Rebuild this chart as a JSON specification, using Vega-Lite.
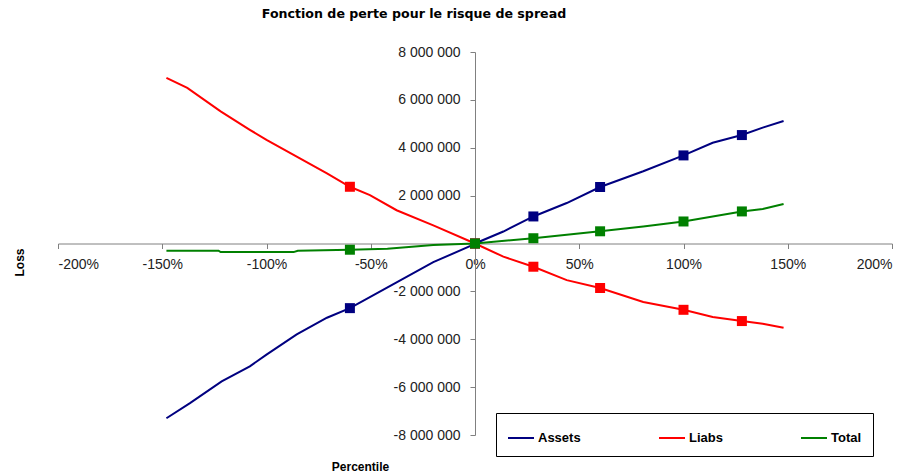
{
  "$schema": "https://vega.github.io/schema/vega-lite/v6.json",
  "width": 834,
  "height": 383,
  "autosize": {"type": "none"},
  "padding": {"left": 58, "top": 52, "right": 21, "bottom": 41},
  "background": "white",
  "title": {
    "text": "Fonction de perte pour le risque de spread",
    "font": "DejaVu Sans",
    "fontSize": 12.6,
    "fontWeight": "bold",
    "color": "black",
    "anchor": "middle",
    "dx": -61,
    "baseline": "alphabetic",
    "offset": 14
  },
  "config": {
    "view": {"stroke": null},
    "locale": {
      "number": {"decimal": ",", "thousands": " ", "grouping": [3], "currency": ["", " €"], "minus": "-", "percent": "%"}
    },
    "axis": {
      "grid": false,
      "domainColor": "#808080",
      "tickColor": "#808080",
      "tickSize": 5,
      "labelFont": "Liberation Sans",
      "labelFontSize": 14,
      "labelColor": "#222",
      "titleFont": "Liberation Sans",
      "titleFontSize": 12,
      "titleFontWeight": "bold",
      "titleColor": "black"
    }
  },
  "datasets": {
    "curve": [
      {"series": "Assets", "pct": -1.48, "loss": -7300000},
      {"series": "Assets", "pct": -1.367, "loss": -6670000},
      {"series": "Assets", "pct": -1.215, "loss": -5760000},
      {"series": "Assets", "pct": -1.08, "loss": -5130000},
      {"series": "Assets", "pct": -1.0, "loss": -4640000},
      {"series": "Assets", "pct": -0.855, "loss": -3800000},
      {"series": "Assets", "pct": -0.71, "loss": -3100000},
      {"series": "Assets", "pct": -0.6, "loss": -2700000},
      {"series": "Assets", "pct": -0.376, "loss": -1620000},
      {"series": "Assets", "pct": -0.2, "loss": -780000},
      {"series": "Assets", "pct": -0.016, "loss": -80000},
      {"series": "Assets", "pct": 0.0, "loss": 0},
      {"series": "Assets", "pct": 0.136, "loss": 500000},
      {"series": "Assets", "pct": 0.28, "loss": 1130000},
      {"series": "Assets", "pct": 0.44, "loss": 1690000},
      {"series": "Assets", "pct": 0.6, "loss": 2360000},
      {"series": "Assets", "pct": 0.807, "loss": 3020000},
      {"series": "Assets", "pct": 1.0, "loss": 3680000},
      {"series": "Assets", "pct": 1.14, "loss": 4210000},
      {"series": "Assets", "pct": 1.28, "loss": 4530000},
      {"series": "Assets", "pct": 1.38, "loss": 4840000},
      {"series": "Assets", "pct": 1.48, "loss": 5120000},
      {"series": "Liabs", "pct": -1.48, "loss": 6920000},
      {"series": "Liabs", "pct": -1.38, "loss": 6500000},
      {"series": "Liabs", "pct": -1.22, "loss": 5520000},
      {"series": "Liabs", "pct": -1.08, "loss": 4750000},
      {"series": "Liabs", "pct": -1.0, "loss": 4330000},
      {"series": "Liabs", "pct": -0.855, "loss": 3630000},
      {"series": "Liabs", "pct": -0.71, "loss": 2930000},
      {"series": "Liabs", "pct": -0.6, "loss": 2370000},
      {"series": "Liabs", "pct": -0.504, "loss": 2020000},
      {"series": "Liabs", "pct": -0.376, "loss": 1390000},
      {"series": "Liabs", "pct": -0.2, "loss": 760000},
      {"series": "Liabs", "pct": 0.0, "loss": 0},
      {"series": "Liabs", "pct": 0.136, "loss": -550000},
      {"series": "Liabs", "pct": 0.28, "loss": -970000},
      {"series": "Liabs", "pct": 0.44, "loss": -1530000},
      {"series": "Liabs", "pct": 0.6, "loss": -1860000},
      {"series": "Liabs", "pct": 0.807, "loss": -2440000},
      {"series": "Liabs", "pct": 1.0, "loss": -2770000},
      {"series": "Liabs", "pct": 1.14, "loss": -3070000},
      {"series": "Liabs", "pct": 1.28, "loss": -3240000},
      {"series": "Liabs", "pct": 1.38, "loss": -3350000},
      {"series": "Liabs", "pct": 1.48, "loss": -3520000},
      {"series": "Total", "pct": -1.48, "loss": -300000},
      {"series": "Total", "pct": -1.23, "loss": -300000},
      {"series": "Total", "pct": -1.22, "loss": -360000},
      {"series": "Total", "pct": -0.87, "loss": -360000},
      {"series": "Total", "pct": -0.85, "loss": -300000},
      {"series": "Total", "pct": -0.6, "loss": -260000},
      {"series": "Total", "pct": -0.42, "loss": -220000},
      {"series": "Total", "pct": -0.2, "loss": -60000},
      {"series": "Total", "pct": 0.0, "loss": 0},
      {"series": "Total", "pct": 0.28, "loss": 220000},
      {"series": "Total", "pct": 0.6, "loss": 510000},
      {"series": "Total", "pct": 0.807, "loss": 710000},
      {"series": "Total", "pct": 1.0, "loss": 920000},
      {"series": "Total", "pct": 1.28, "loss": 1340000},
      {"series": "Total", "pct": 1.38, "loss": 1440000},
      {"series": "Total", "pct": 1.48, "loss": 1650000}
    ],
    "markers": [
      {"series": "Assets", "pct": -0.6, "loss": -2700000},
      {"series": "Assets", "pct": 0.0, "loss": 0},
      {"series": "Assets", "pct": 0.28, "loss": 1130000},
      {"series": "Assets", "pct": 0.6, "loss": 2360000},
      {"series": "Assets", "pct": 1.0, "loss": 3680000},
      {"series": "Assets", "pct": 1.28, "loss": 4530000},
      {"series": "Liabs", "pct": -0.6, "loss": 2370000},
      {"series": "Liabs", "pct": 0.0, "loss": 0},
      {"series": "Liabs", "pct": 0.28, "loss": -970000},
      {"series": "Liabs", "pct": 0.6, "loss": -1860000},
      {"series": "Liabs", "pct": 1.0, "loss": -2770000},
      {"series": "Liabs", "pct": 1.28, "loss": -3240000},
      {"series": "Total", "pct": -0.6, "loss": -260000},
      {"series": "Total", "pct": 0.0, "loss": 0},
      {"series": "Total", "pct": 0.28, "loss": 220000},
      {"series": "Total", "pct": 0.6, "loss": 510000},
      {"series": "Total", "pct": 1.0, "loss": 920000},
      {"series": "Total", "pct": 1.28, "loss": 1340000}
    ]
  },
  "layer": [
    {
      "data": {"name": "curve"},
      "mark": {"type": "line", "strokeWidth": 2},
      "encoding": {
        "x": {
          "field": "pct", "type": "quantitative",
          "scale": {"domain": [-2, 2], "nice": false, "zero": false},
          "axis": {
            "values": [-2, -1.5, -1, -0.5, 0, 0.5, 1, 1.5, 2],
            "format": ".0%",
            "offset": -191.5,
            "labelPadding": 9,
            "title": "Percentile",
            "titleX": 302,
            "titleY": 222.5,
            "titleAlign": "center",
            "titleBaseline": "middle"
          }
        },
        "y": {
          "field": "loss", "type": "quantitative",
          "scale": {"domain": [-8000000, 8000000], "nice": false},
          "axis": {
            "values": [-8000000, -6000000, -4000000, -2000000, 2000000, 4000000, 6000000, 8000000],
            "format": ",d",
            "offset": -417,
            "labelPadding": 10,
            "title": "Loss",
            "titleX": -456,
            "titleY": 210,
            "titleAngle": -90,
            "titleAlign": "center",
            "titleBaseline": "middle"
          }
        },
        "color": {
          "field": "series", "type": "nominal",
          "scale": {"domain": ["Assets", "Liabs", "Total"], "range": ["#000080", "#FF0000", "#008000"]},
          "legend": {
            "orient": "none",
            "legendX": 438,
            "legendY": 361,
            "direction": "horizontal",
            "title": null,
            "strokeColor": "black",
            "fillColor": "white",
            "padding": 11,
            "symbolType": "stroke",
            "symbolSize": 676,
            "symbolStrokeWidth": 2,
            "labelFont": "Liberation Sans",
            "labelFontSize": 13,
            "labelFontWeight": "bold",
            "labelColor": "black",
            "labelOffset": 3,
            "columnPadding": 74
          }
        }
      }
    },
    {
      "data": {"name": "markers"},
      "mark": {"type": "point", "shape": "square", "filled": true, "size": 100, "opacity": 1},
      "encoding": {
        "x": {"field": "pct", "type": "quantitative"},
        "y": {"field": "loss", "type": "quantitative"},
        "color": {"field": "series", "type": "nominal", "legend": null}
      }
    }
  ]
}
